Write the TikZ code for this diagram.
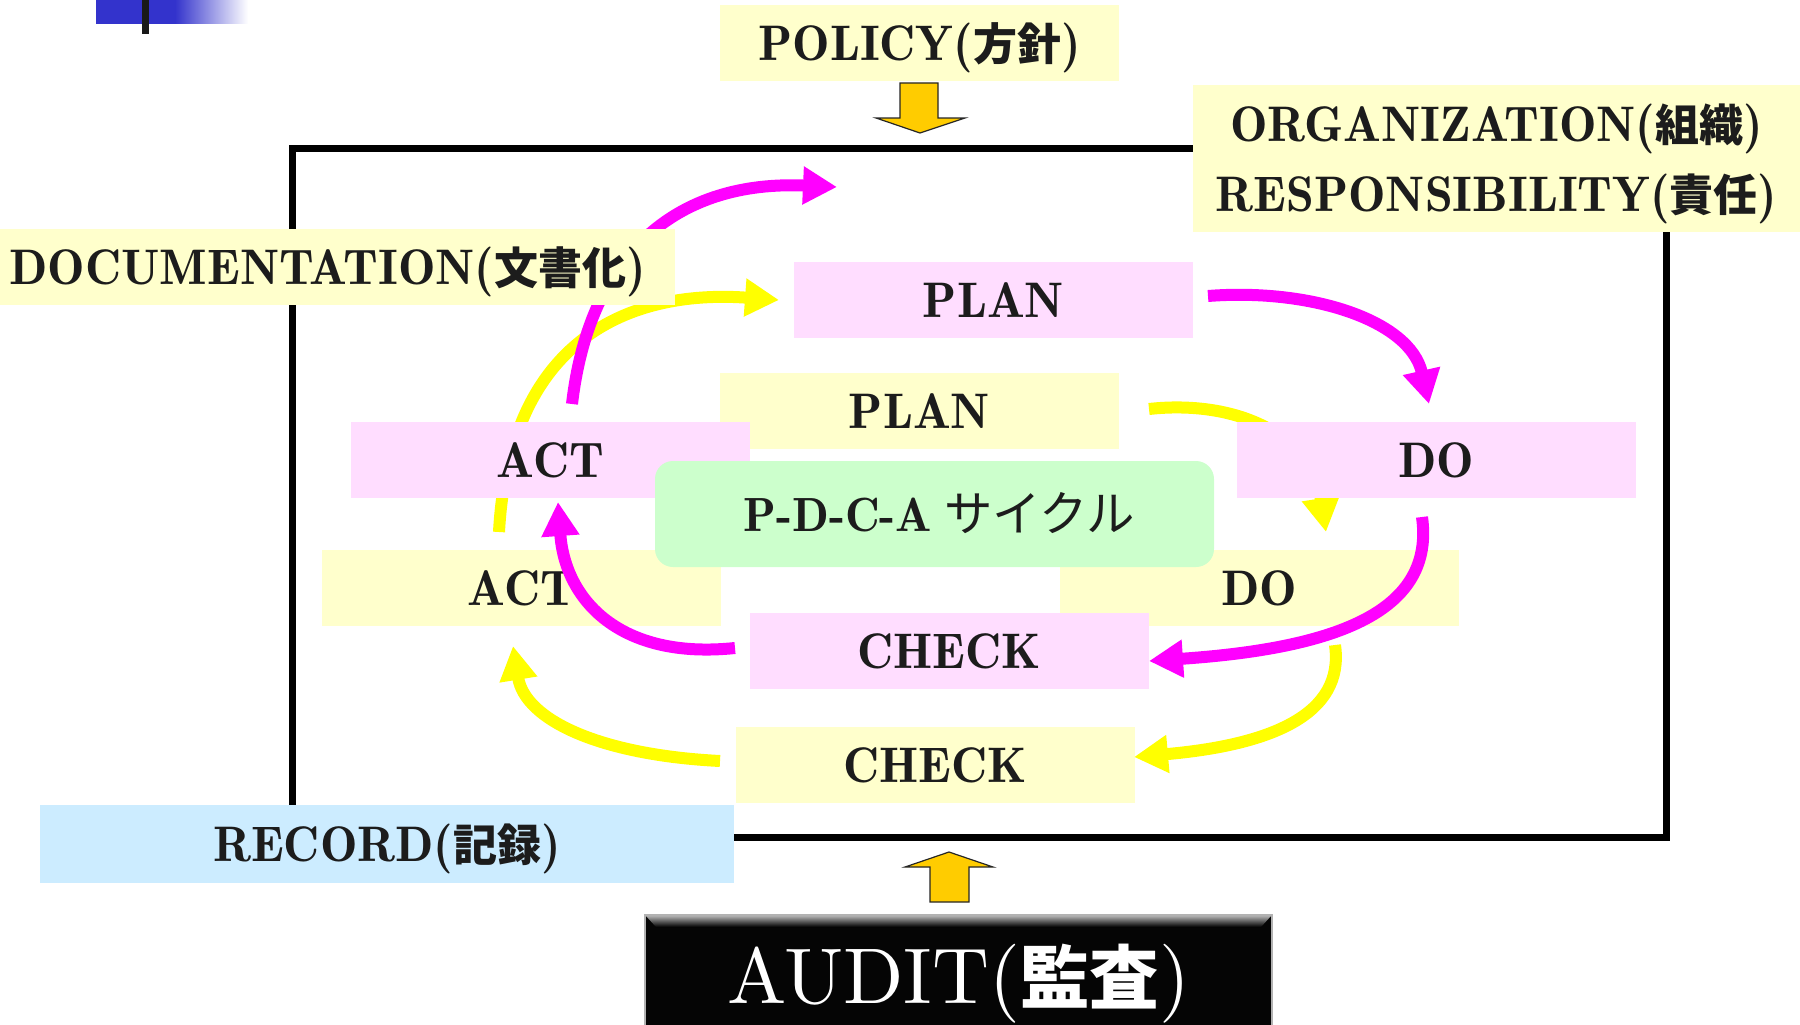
\documentclass[tikz,border=0pt]{standalone}
\usepackage{fontspec}
\setmainfont{lmromandemi10-regular.otf}
\newfontfamily\lmreg{lmroman10-regular.otf}
\newfontfamily\cjk{Noto Sans CJK JP}[Scale=0.88]
\newcommand\J[1]{{\cjk\bfseries #1}}
\usetikzlibrary{arrows.meta}
\definecolor{txt}{RGB}{28,28,28}
\definecolor{ybox}{RGB}{255,255,204}
\definecolor{pbox}{RGB}{255,221,255}
\definecolor{gbox}{RGB}{204,255,204}
\definecolor{bbox}{RGB}{204,236,255}
\definecolor{mag}{RGB}{255,0,255}
\definecolor{yel}{RGB}{255,255,0}
\definecolor{gold}{RGB}{255,204,0}
\definecolor{barblue}{RGB}{51,51,204}
\begin{document}
\begin{tikzpicture}[x=1pt,y=-1pt,
  lab/.style={inner sep=0pt, text=txt, font=\fontsize{50}{60}\selectfont,
    text height=35pt, text depth=0pt, minimum width=399pt, minimum height=76pt},
  yb/.style={lab, fill=ybox},
  pb/.style={lab, fill=pbox},
  marr/.style={draw=mag, line width=12pt, -{Triangle[length=34pt,width=36pt]}},
  yarr/.style={draw=yel, line width=12pt, -{Triangle[length=34pt,width=36pt]}},
  blockarrow/.style={fill=gold, draw=black!85, line width=1.2pt, line join=miter}]
\useasboundingbox (0,0) rectangle (1800,1025);
\clip (0,0) rectangle (1800,1025);

% top-left bar
\fill[barblue] (96,0) rectangle (176,24);
\shade[left color=barblue, right color=white] (175,0) rectangle (248,24);
\fill[black!90] (142,0) rectangle (149,34);

% main frame
\draw[line width=7pt] (292,148) rectangle (1666,837);

% yellow boxes
\node[yb] (planY)  at (919.5,411)  {PLAN};
\node[yb] (actY)   at (521.5,587.5) {ACT};
\node[yb] (doY)    at (1259,588)   {DO};
\node[yb] (checkY) at (935,764.5)  {CHECK};

% yellow cycle arrows
\coordinate (y1s) at (1149,409); \coordinate (y1e) at (1326,532);
\coordinate (y2s) at (1335,645); \coordinate (y2e) at (1134,757);
\coordinate (y3s) at (720,761);  \coordinate (y3e) at (513,646);
\coordinate (y4s) at (499,532);  \coordinate (y4e) at (779,300);
\draw[yarr] (y1s) .. controls (1230,400) and (1310,430) .. (y1e);
\draw[yarr] (y2s) .. controls (1345,715) and (1270,745) .. (y2e);
\draw[yarr] (y3s) .. controls (600,755) and (525,720) .. (y3e);
\draw[yarr] (y4s) .. controls (510,330) and (640,290) .. (y4e);

% pink boxes
\node[pb] (planP)  at (993.5,300)  {PLAN};
\node[pb] (actP)   at (550.5,459.5) {ACT};
\node[pb] (doP)    at (1436.5,459.5) {DO};
\node[pb] (checkP) at (949,651)    {CHECK};

% magenta cycle arrows
\coordinate (m1s) at (1208,296); \coordinate (m1e) at (1429,404);
\coordinate (m2s) at (1422,517); \coordinate (m2e) at (1149,661);
\coordinate (m3s) at (735,648);  \coordinate (m3e) at (558,502);
\coordinate (m4s) at (572,404);  \coordinate (m4e) at (837,187);
\draw[marr] (m1s) .. controls (1310,288) and (1410,320) .. (m1e);
\draw[marr] (m2s) .. controls (1435,610) and (1340,648) .. (m2e);
\draw[marr] (m3s) .. controls (620,660) and (565,600) .. (m3e);
\draw[marr] (m4s) .. controls (590,250) and (680,180) .. (m4e);

% centre
\node[lab, fill=gbox, rounded corners=18pt, minimum width=559pt, minimum height=106pt,
  font=\fontsize{48}{58}\selectfont]
  (pdca) at (934.5,514) {\hspace*{10pt}P-D-C-A\hspace{12pt}{\cjk\fontsize{55}{60}\selectfont サイクル}};

% labels around
\node[yb, minimum width=399pt] (policy) at (919.5,43) {POLICY(\J{方針})};
\node[yb, minimum width=695pt] (doc) at (327.5,267) {DOCUMENTATION(\J{文書化})};
\node[fill=ybox, inner sep=0pt, minimum width=607pt, minimum height=147pt]
  (org) at (1496.5,158.5) {};
\node[inner sep=0pt, text=txt, font=\fontsize{50}{70}\selectfont, align=center]
  (orgtext) at (1496.5,164) {ORGANIZATION(\J{組織})\\RESPONSIBILITY(\J{責任})};
\node[lab, fill=bbox, minimum width=694pt, minimum height=78pt] (record) at (387,844) {RECORD(\J{記録})};

% audit
\node[fill=black!98, draw=gray!60, line width=1.5pt, inner sep=0pt,
  minimum width=627pt, minimum height=122pt, text=white,
  font=\lmreg\fontsize{79}{84}\selectfont, text height=54pt, text depth=0pt]
  (audit) at (958.5,976) {AUDIT(\J{監査})};
\shade[top color=gray!65, bottom color=black] (646,916) -- (1271,916) -- (1261,927) -- (656,927) -- cycle;

% gold block arrows
\draw[blockarrow] (900,83) -- (938,83) -- (938,118) -- (965,118) -- (920,133)
  -- (876,118) -- (900,118) -- cycle;
\draw[blockarrow] (930,902) -- (969,902) -- (969,867) -- (993,867) -- (949,852)
  -- (905,867) -- (930,867) -- cycle;
\end{tikzpicture}
\end{document}
